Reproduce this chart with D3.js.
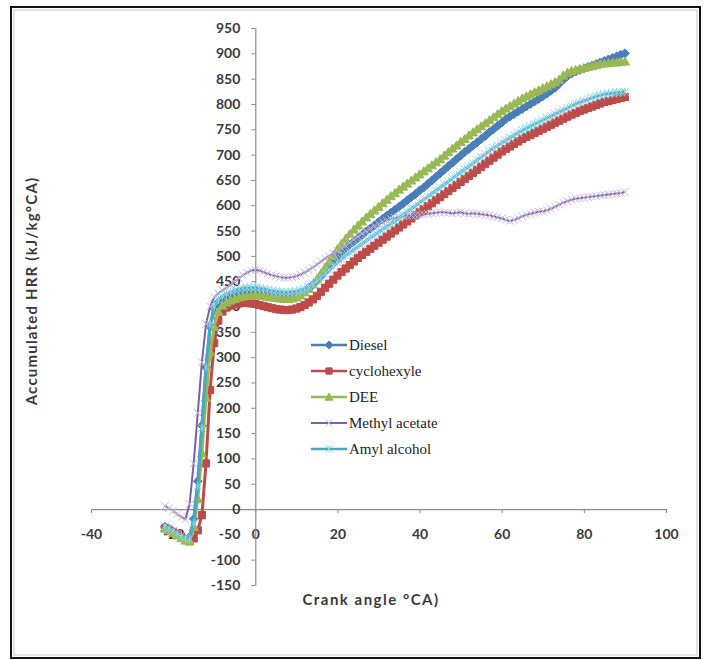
<!DOCTYPE html>
<html>
<head>
<meta charset="utf-8">
<script src="https://cdn.jsdelivr.net/npm/d3@7"></script>
<style>
  body { margin: 0; background: #fff; }
  svg { display: block; }
</style>
</head>
<body>
<div id="canvas"></div>
<script>
// crank angle, deg CA
const crankAngle = [
  -22, -21, -20, -19, -18, -17, -16, -15,
  -14, -13, -12, -11, -10, -9, -8, -7, -6, -5,
  -4, -3, -2, -1, 0, 1, 2, 3, 4, 5,
  6, 7, 8, 9, 10, 11, 12, 13, 14, 15,
  16, 17, 18, 19, 20, 21, 22, 23, 24, 25,
  26, 27, 28, 29, 30, 31, 32, 33, 34, 35,
  36, 37, 38, 39, 40, 41, 42, 43, 44, 45,
  46, 47, 48, 49, 50, 51, 52, 53, 54, 55,
  56, 57, 58, 59, 60, 61, 62, 63, 64, 65,
  66, 67, 68, 69, 70, 71, 72, 73, 74, 75,
  76, 77, 78, 79, 80, 81, 82, 83, 84, 85,
  86, 87, 88, 89, 90
];

const diesel = [
  -35, -39, -44, -50, -55, -59, -55, -20,
  55, 165, 280, 360, 395, 408, 414, 418, 421, 423,
  425, 426, 427, 427, 427, 426, 425, 424, 423, 422,
  421, 421, 421, 422, 424, 427, 431, 436, 443, 451,
  460, 470, 480, 490, 500, 508, 515, 522, 528, 535,
  541, 548, 554, 560, 567, 573, 579, 585, 591, 597,
  603, 610, 616, 622, 629, 635, 642, 649, 656, 663,
  670, 677, 684, 691, 698, 705, 711, 718, 724, 731,
  737, 744, 750, 757, 763, 770, 775, 780, 785, 790,
  795, 800, 805, 810, 815, 820, 826, 832, 840, 848,
  855, 860, 864, 867, 870, 873, 876, 879, 882, 885,
  888, 891, 894, 897, 900
];

const cyclohexyle = [
  -38, -42, -46, -50, -55, -60, -63, -58,
  -42, -12, 90, 235, 328, 372, 390, 398, 402, 404,
  406, 407, 407, 406, 405, 403, 401, 399, 397, 395,
  394, 393, 393, 394, 396, 399, 403, 408, 414, 421,
  429, 437, 445, 453, 461, 468, 475, 482, 489, 496,
  502, 508, 514, 520, 526, 532, 538, 544, 550, 556,
  562, 568, 574, 580, 586, 592, 598, 604, 610, 616,
  622, 628, 634, 640, 646, 652, 658, 664, 670, 676,
  682, 688, 694, 700, 706, 711, 716, 721, 726, 731,
  735, 739, 743, 747, 751, 755, 759, 763, 767, 771,
  775, 779, 782, 786, 789, 792, 795, 798, 801, 804,
  806, 808, 810, 812, 814
];

const dee = [
  -38, -42, -47, -52, -57, -62, -64, -35,
  20, 110, 220, 310, 360, 390, 402, 408, 412, 415,
  418, 420, 421, 422, 422, 422, 421, 419, 418, 417,
  416, 415, 415, 416, 418, 422, 428, 435, 444, 454,
  465, 477, 489, 501, 513, 524, 534, 543, 552, 560,
  568, 576, 583, 590, 597, 604, 611, 618, 624, 631,
  637, 643, 649, 655, 661, 667, 673, 679, 685, 691,
  698, 705, 712, 718, 725, 731, 738, 744, 750, 756,
  762, 768, 774, 780, 786, 791, 796, 801, 806, 811,
  815, 819, 823, 827, 831, 835, 839, 843, 848, 856,
  862, 865, 867, 869, 871, 873, 875, 877, 879, 880,
  881, 882, 882, 883, 884
];

const methylAcetate = [
  6, 2, -4, -10, -16, -20, 10, 90,
  190, 290, 365, 400, 418, 426, 432, 437, 443, 449,
  456, 462, 467, 471, 472, 471, 468, 465, 462, 460,
  458, 457, 457, 458, 460, 463, 467, 472, 477, 483,
  489, 495, 500, 505, 510, 515, 520, 526, 532, 538,
  544, 549, 554, 559, 563, 567, 570, 573, 575, 577,
  578, 579, 580, 580, 581, 582, 583, 584, 585, 586,
  586, 585, 584, 585, 586, 584, 583, 584, 583, 582,
  581, 580, 578, 576, 574, 571, 569, 571, 574, 578,
  581, 583, 585, 587, 588, 590, 593, 597, 601, 605,
  608, 611, 613, 614, 615, 616, 617, 618, 619, 620,
  621, 622, 623, 624, 626
];

const amylAlcohol = [
  -34, -38, -43, -48, -53, -57, -59, -28,
  45, 160, 280, 365, 400, 413, 420, 425, 429, 432,
  434, 436, 437, 437, 437, 436, 435, 433, 431, 430,
  429, 428, 428, 429, 430, 432, 435, 439, 444, 450,
  457, 465, 472, 480, 487, 494, 500, 506, 512, 518,
  524, 530, 536, 541, 547, 552, 558, 563, 569, 575,
  581, 587, 593, 599, 605, 611, 617, 623, 629, 635,
  641, 647, 653, 659, 665, 671, 677, 683, 689, 695,
  701, 707, 713, 718, 723, 728, 733, 738, 743, 748,
  752, 756, 760, 764, 768, 772, 776, 780, 784, 788,
  792, 796, 800, 803, 806, 809, 812, 815, 817, 819,
  820, 821, 822, 823, 824
];

const seriesNames = ["Diesel", "cyclohexyle", "DEE", "Methyl acetate", "Amyl alcohol"];
const seriesValues = [diesel, cyclohexyle, dee, methylAcetate, amylAlcohol];
const xTickValues = [-40, -20, 0, 20, 40, 60, 80, 100];
const yTickValues = [-150, -100, -50, 0, 50, 100, 150, 200, 250, 300, 350, 400, 450,
  500, 550, 600, 650, 700, 750, 800, 850, 900, 950];

const width = 709, height = 660;

const styles = [
  { line: "#4a7ebb", lw: 3, marker: "diamond", fill: "#4a7ebb", stroke: "#4a7ebb", size: 4.5 },
  { line: "#be4b48", lw: 3, marker: "square", fill: "#be4b48", stroke: "#be4b48", size: 3.6 },
  { line: "#98b954", lw: 3, marker: "triangle", fill: "#98b954", stroke: "#98b954", size: 4.5 },
  { line: "#7d60a0", lw: 2, marker: "x", fill: "none", stroke: "#c7b8e0", size: 3.8 },
  { line: "#46aac5", lw: 3, marker: "star", fill: "none", stroke: "#8fd3e6", size: 4.2 }
];

function markerPath(kind, r) {
  if (kind === "diamond") return `M0,${-r}L${r},0L0,${r}L${-r},0Z`;
  if (kind === "square") return `M${-r},${-r}H${r}V${r}H${-r}Z`;
  if (kind === "triangle") return `M0,${-r}L${r},${r * 0.8}L${-r},${r * 0.8}Z`;
  if (kind === "x") return `M${-r},${-r}L${r},${r}M${-r},${r}L${r},${-r}`;
  // asterisk
  return `M${-r},${-r}L${r},${r}M${-r},${r}L${r},${-r}M0,${-r}V${r}`;
}

const svg = d3.select("#canvas").append("svg")
  .attr("width", width)
  .attr("height", height);

svg.append("rect").attr("x", 0).attr("y", 0).attr("width", width).attr("height", height).attr("fill", "#fff");
// chart frame
svg.append("rect").attr("x", 11).attr("y", 7).attr("width", 689).attr("height", 651)
  .attr("fill", "none").attr("stroke", "#111").attr("stroke-width", 2);
svg.append("rect").attr("x", 14).attr("y", 10).attr("width", 683).attr("height", 645)
  .attr("fill", "none").attr("stroke", "#c8c8c8").attr("stroke-width", 1);

const x = d3.scaleLinear().domain([-40, 100]).range([91, 666]);
const y = d3.scaleLinear().domain([-150, 950]).range([585, 28]);

const axisFont = "Lato, 'Open Sans', sans-serif";

const gx = svg.append("g")
  .attr("transform", `translate(0,${y(0)})`)
  .call(d3.axisBottom(x).tickValues(xTickValues).tickSizeInner(4).tickSizeOuter(0)
    .tickPadding(16).tickFormat(d => String(d)));
const gy = svg.append("g")
  .attr("transform", `translate(${x(0)},0)`)
  .call(d3.axisLeft(y).tickValues(yTickValues).tickSizeInner(4).tickSizeOuter(0)
    .tickPadding(11).tickFormat(d => String(d)));

[gx, gy].forEach(g => {
  g.select(".domain").attr("stroke", "#8c8c8c").attr("stroke-width", 1.2);
  g.selectAll(".tick line").attr("stroke", "#8c8c8c");
  g.selectAll(".tick text")
    .attr("fill", "#3a3a3a")
    .style("font-family", axisFont)
    .style("font-weight", "bold")
    .style("font-size", "14px");
});

// series
const line = d3.line()
  .x((d, i) => x(crankAngle[i]))
  .y(d => y(d));

seriesValues.forEach((vals, k) => {
  const st = styles[k];
  const g = svg.append("g").attr("class", "series");
  g.append("path")
    .datum(vals)
    .attr("fill", "none")
    .attr("stroke", st.line)
    .attr("stroke-width", st.lw)
    .attr("stroke-linejoin", "round")
    .attr("d", line);
  g.selectAll("path.mk")
    .data(vals)
    .enter().append("path")
    .attr("class", "mk")
    .attr("transform", (d, i) => `translate(${x(crankAngle[i])},${y(d)})`)
    .attr("d", markerPath(st.marker, st.size))
    .attr("fill", st.fill)
    .attr("stroke", st.stroke)
    .attr("stroke-width", 1);
});

// axis titles
svg.append("text")
  .attr("transform", `translate(37,291) rotate(-90)`)
  .attr("text-anchor", "middle")
  .style("font-family", axisFont)
  .style("font-weight", "bold")
  .style("font-size", "15px")
  .style("letter-spacing", "1.2px")
  .attr("fill", "#3a3a3a")
  .text("Accumulated HRR (kJ/kg°CA)");

svg.append("text")
  .attr("x", 371)
  .attr("y", 605)
  .attr("text-anchor", "middle")
  .style("font-family", axisFont)
  .style("font-weight", "bold")
  .style("font-size", "15px")
  .style("letter-spacing", "1.5px")
  .attr("fill", "#3a3a3a")
  .text("Crank angle °CA)");

// legend
const legend = svg.append("g");
seriesNames.forEach((name, k) => {
  const st = styles[k];
  const ly = 345 + k * 26;
  legend.append("line")
    .attr("x1", 311).attr("x2", 347).attr("y1", ly).attr("y2", ly)
    .attr("stroke", st.line).attr("stroke-width", st.lw === 3 ? 2.5 : 2);
  legend.append("path")
    .attr("transform", `translate(329,${ly})`)
    .attr("d", markerPath(st.marker, st.size - 0.5))
    .attr("fill", st.fill)
    .attr("stroke", st.stroke);
  legend.append("text")
    .attr("x", 349)
    .attr("y", ly + 5)
    .style("font-family", "'Liberation Serif', 'Times New Roman', serif")
    .style("font-size", "15px")
    .attr("fill", "#222")
    .text(name);
});
</script>
</body>
</html>
